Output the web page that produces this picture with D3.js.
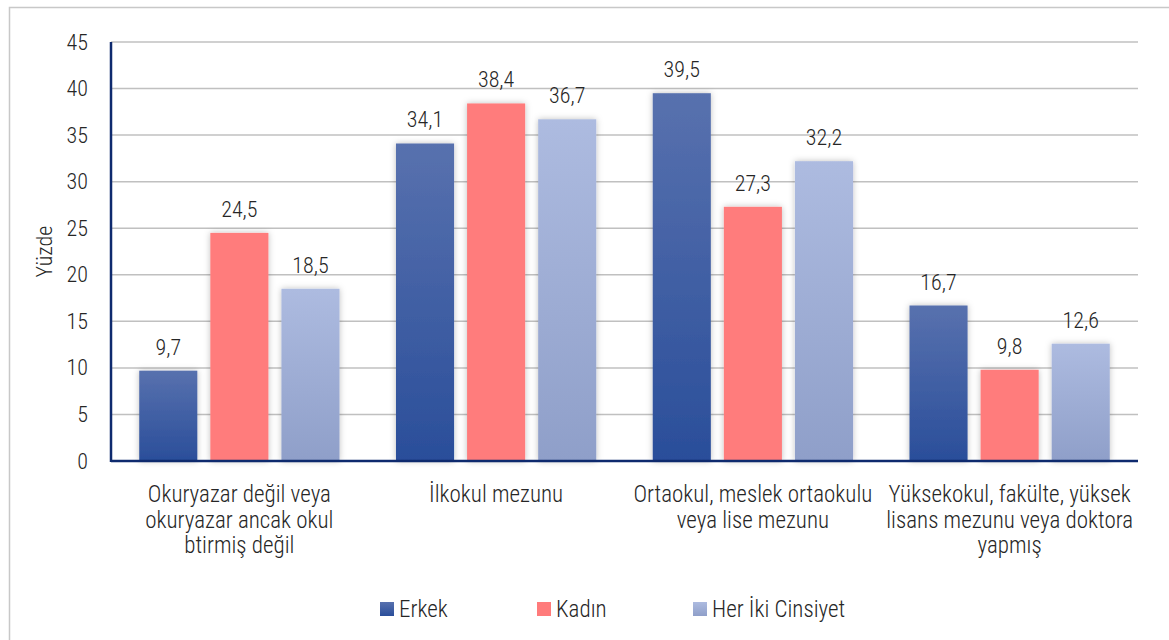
<!DOCTYPE html>
<html>
<head>
	<meta charset="utf-8">
	<title>Eğitim durumu</title>
	<script src="https://cdn.jsdelivr.net/npm/d3@7"></script>
	<style>
		body {
			margin: 0;
			background: #fff;
		}
		svg {
			font-family: "Roboto Condensed", "Liberation Sans Narrow", "Arial Narrow", Roboto, sans-serif;
			font-weight: 300;
		}
		text { fill: #262626; }
	</style>
</head>
<body>
	<div id="chart"></div>
	<script>

		// data

		const categories = [
			"Okuryazar değil veya\nokuryazar ancak okul\nbtirmiş değil",
			"İlkokul mezunu",
			"Ortaokul, meslek ortaokulu\nveya lise mezunu",
			"Yüksekokul, fakülte, yüksek\nlisans mezunu veya doktora\nyapmış"
		];
		const series = ["Erkek", "Kadın", "Her İki Cinsiyet"];
		const erkek = [9.7, 34.1, 39.5, 16.7];
		const kadin = [24.5, 38.4, 27.3, 9.8];
		const herIki = [18.5, 36.7, 32.2, 12.6];
		const yTicks = [0, 5, 10, 15, 20, 25, 30, 35, 40, 45];
		const yLabel = "Yüzde";

		// layout

		const width = 1169;
		const height = 640;
		const margin = { top: 42, right: 31, bottom: 179, left: 111 };
		const numSize = "22px";
		const wordSize = "23px";
		const gradients = [
			["#5871ae", "#2a4e9a"],
			["#ff7b7b", "#ff7b7b"],
			["#adbbe0", "#8f9fc9"]
		];

		const values = [erkek, kadin, herIki];
		const rows = [];
		categories.forEach((c, i) => series.forEach((s, j) => rows.push({ c, s, j, v: values[j][i] })));

		const svg = d3.select("#chart").append("svg")
			.attr("width", width)
			.attr("height", height);

		const defs = svg.append("defs");
		gradients.forEach((g, j) => {
			const lg = defs.append("linearGradient")
				.attr("id", "grad" + j)
				.attr("x1", 0).attr("y1", 0).attr("x2", 0).attr("y2", 1);
			lg.append("stop").attr("offset", "0%").attr("stop-color", g[0]);
			lg.append("stop").attr("offset", "100%").attr("stop-color", g[1]);
		});
		defs.append("filter")
			.attr("id", "shadow")
			.attr("x", "-30%").attr("y", "-10%").attr("width", "160%").attr("height", "120%")
			.append("feDropShadow")
			.attr("dx", 0).attr("dy", 0).attr("stdDeviation", 3)
			.attr("flood-color", "#000").attr("flood-opacity", 0.25);

		// outer frame
		svg.append("rect")
			.attr("x", 9.5).attr("y", 7.5)
			.attr("width", width + 10).attr("height", height + 10)
			.attr("fill", "none")
			.attr("stroke", "#c8c8c8")
			.attr("stroke-width", 1.5);

		const x0 = d3.scaleBand(categories, [margin.left, width - margin.right])
			.paddingInner(0.22).paddingOuter(0.11);
		const x1 = d3.scaleBand(series, [0, x0.bandwidth()]).paddingInner(0.183);
		const y = d3.scaleLinear([0, 45], [height - margin.bottom, margin.top]);

		// gridlines
		svg.append("g")
			.selectAll("line")
			.data(yTicks.slice(1))
			.join("line")
			.attr("x1", margin.left).attr("x2", width - margin.right)
			.attr("y1", d => y(d)).attr("y2", d => y(d))
			.attr("stroke", "#c0c0c0")
			.attr("stroke-width", 1.5);

		// y axis labels
		svg.append("g")
			.attr("transform", `translate(${margin.left},0)`)
			.call(d3.axisLeft(y).tickValues(yTicks).tickSize(0).tickPadding(23))
			.attr("font-family", null)
			.attr("font-size", numSize)
			.call(g => g.select(".domain").remove())
			.call(g => g.selectAll("text").attr("fill", "#262626"));

		svg.append("text")
			.attr("transform", `translate(52,${(y(0) + y(45)) / 2}) rotate(-90)`)
			.attr("text-anchor", "middle")
			.style("font-size", "22px")
			.text(yLabel);

		// bars
		const fmt = v => d3.format(".1f")(v).replace(".", ",");
		svg.append("g")
			.selectAll("rect")
			.data(rows)
			.join("rect")
			.attr("x", d => x0(d.c) + x1(d.s))
			.attr("y", d => y(d.v))
			.attr("width", x1.bandwidth())
			.attr("height", d => y(0) - y(d.v))
			.attr("fill", d => `url(#grad${d.j})`)
			.attr("filter", "url(#shadow)");

		svg.append("g")
			.selectAll("text")
			.data(rows)
			.join("text")
			.attr("x", d => x0(d.c) + x1(d.s) + x1.bandwidth() / 2)
			.attr("y", d => y(d.v) - 16)
			.attr("text-anchor", "middle")
			.style("font-size", numSize)
			.text(d => fmt(d.v));

		// axis lines
		svg.append("line")
			.attr("x1", margin.left).attr("x2", margin.left)
			.attr("y1", y(45)).attr("y2", y(0) + 1)
			.attr("stroke", "#0e2a6e").attr("stroke-width", 2.5);
		svg.append("line")
			.attr("x1", margin.left).attr("x2", width - margin.right)
			.attr("y1", y(0)).attr("y2", y(0))
			.attr("stroke", "#0e2a6e").attr("stroke-width", 2.5);

		// category labels
		const xl = svg.append("g")
			.selectAll("text")
			.data(categories)
			.join("text")
			.attr("x", d => x0(d) + x0.bandwidth() / 2)
			.attr("y", 502)
			.attr("text-anchor", "middle")
			.style("font-size", wordSize);
		xl.selectAll("tspan")
			.data(d => d.split("\n"))
			.join("tspan")
			.attr("x", function () { return d3.select(this.parentNode).attr("x"); })
			.attr("dy", (d, i) => i ? 25.5 : 0)
			.text(d => d);

		// legend
		const legendX = [380, 537, 693];
		const legend = svg.append("g")
			.selectAll("g")
			.data(series)
			.join("g")
			.attr("transform", (d, i) => `translate(${legendX[i]},602)`);
		legend.append("rect")
			.attr("width", 14).attr("height", 14)
			.attr("fill", (d, i) => `url(#grad${i})`);
		legend.append("text")
			.attr("x", 19).attr("y", 15)
			.style("font-size", wordSize)
			.text(d => d);

	</script>
</body>
</html>
